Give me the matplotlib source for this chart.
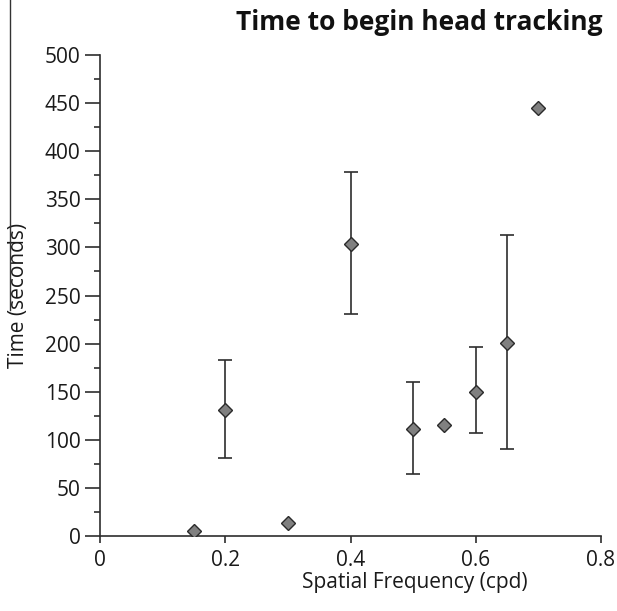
import matplotlib
matplotlib.use('Agg')
import matplotlib.pyplot as plt
from matplotlib.lines import Line2D
from matplotlib.ticker import MultipleLocator

# # data
freq = [0.15, 0.2, 0.3, 0.4, 0.5, 0.55, 0.6, 0.65, 0.7]
time_s = [5, 131, 14, 304, 111, 115, 150, 201, 445]
err_low = [0, 50, 0, 73, 47, 0, 43, 111, 0]
err_high = [0, 52, 0, 74, 49, 0, 46, 112, 0]

x_ticks = [0, 0.2, 0.4, 0.6, 0.8]
x_ticklabels = ['0', '0.2', '0.4', '0.6', '0.8']
y_ticks = [0, 50, 100, 150, 200, 250, 300, 350, 400, 450, 500]

plt.rcParams['font.family'] = 'Open Sans'
plt.rcParams['font.size'] = 15

fig = plt.figure(figsize=(6.17, 6.11), dpi=100)
ax = fig.add_axes([100/617, 1 - 536/611, 501/617, (536 - 55)/611])

# error bars only where there is a spread
eb_x = [f for f, lo in zip(freq, err_low) if lo > 0]
eb_y = [t for t, lo in zip(time_s, err_low) if lo > 0]
eb_lo = [lo for lo in err_low if lo > 0]
eb_hi = [hi for lo, hi in zip(err_low, err_high) if lo > 0]
ax.errorbar(eb_x, eb_y, yerr=[eb_lo, eb_hi], fmt='none', ecolor='#2e2e2e',
            elinewidth=1.2, capsize=5, capthick=1.2, zorder=2)

ax.plot(freq, time_s, linestyle='none', marker='D', markersize=7.5,
        markerfacecolor='#808080', markeredgecolor='#2a2a2a', markeredgewidth=1.0, zorder=3)

ax.set_xlim(0, 0.8)
ax.set_ylim(0, 500)
ax.set_xticks(x_ticks)
ax.set_xticklabels(x_ticklabels)
ax.set_yticks(y_ticks)
ax.yaxis.set_minor_locator(MultipleLocator(25))

for side in ['top', 'right']:
    ax.spines[side].set_visible(False)
for side in ['left', 'bottom']:
    ax.spines[side].set_color('#2e2e2e')
    ax.spines[side].set_linewidth(1.2)
ax.spines['left'].set_bounds(0, 500)
ax.spines['bottom'].set_bounds(0, 0.8)

ax.tick_params(axis='y', which='major', direction='out', length=11, width=1.2, color='#2e2e2e', pad=3)
ax.tick_params(axis='y', which='minor', direction='out', length=4, width=1.2, color='#2e2e2e')
ax.tick_params(axis='x', which='major', direction='out', length=5, width=1.2, color='#2e2e2e', pad=5)
for lbl in ax.get_xticklabels() + ax.get_yticklabels():
    lbl.set_color('#1a1a1a')

ax.set_xlabel('Spatial Frequency (cpd)', color='#1a1a1a')
ax.xaxis.set_label_coords((415 - 100)/501, -0.075)
ax.set_ylabel('Time (seconds)', color='#1a1a1a')
ax.yaxis.set_label_coords(-0.142, 0.5)

fig.text(603/617, 1 - 22/611, 'Time to begin head tracking', ha='right', va='center',
         fontsize=19, fontweight='bold', color='#111111')

# leftover border line from the neighbouring panel
fig.add_artist(Line2D([10/617, 10/617], [1, 1 - 310/611], color='#333333', linewidth=1.0))

plt.savefig('out.png', dpi=100)
